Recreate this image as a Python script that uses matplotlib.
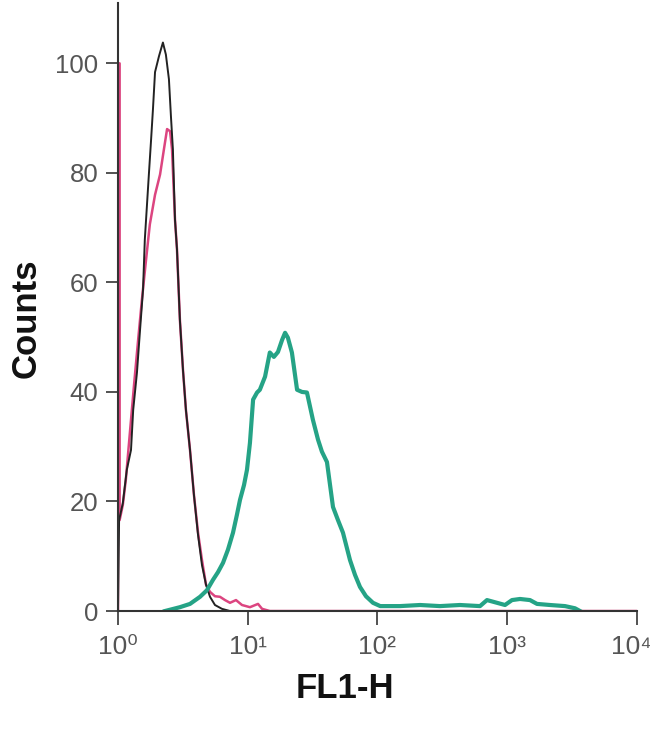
import numpy as np
import matplotlib
matplotlib.use("Agg")
import matplotlib.pyplot as plt
from matplotlib.transforms import ScaledTranslation

plt.rcParams['font.family'] = ['Liberation Sans', 'DejaVu Sans']

# control (black)
black_fl1 = [1.0, 1.02, 1.09, 1.17, 1.26, 1.31, 1.40, 1.48, 1.56, 1.61, 1.73, 1.80, 1.86,
             1.93, 2.07, 2.22, 2.34, 2.47, 2.56, 2.65, 2.75, 2.85, 3.00, 3.17, 3.34, 3.59,
             3.85, 4.14, 4.44, 4.77, 5.12, 5.59, 6.33, 7.30, 10000]
black_counts = [0, 16.6, 19.7, 25.8, 29.4, 36.7, 43.5, 51.4, 58.7, 67.8, 79.7, 86.1, 91.6,
                98.4, 101.3, 103.8, 101.6, 97.1, 90.3, 84.3, 71.5, 66.0, 53.2, 44.0, 36.7, 29.4,
                21.2, 13.9, 8.4, 4.8, 2.6, 1.1, 0.4, 0, 0]

# isotype (magenta)
magenta_fl1 = [1.0, 1.0, 1.03, 1.03, 1.09, 1.15, 1.24, 1.33, 1.43, 1.53, 1.64, 1.76, 1.93,
               2.11, 2.26, 2.39, 2.52, 2.61, 2.75, 2.85, 3.00, 3.17, 3.34, 3.59, 3.85, 4.14,
               4.44, 4.77, 5.12, 5.59, 6.11, 6.68, 7.30, 8.12, 9.03, 10.4, 12.0, 12.9, 14.8,
               10000]
magenta_counts = [0, 100, 100, 16.6, 19.4, 24.0, 33.0, 41.3, 49.5, 56.9, 63.8, 70.6, 76.0,
                  79.7, 84.3, 88.0, 87.6, 84.3, 71.5, 66.0, 53.2, 44.0, 36.7, 29.4, 21.2, 14.3,
                  9.3, 4.8, 3.5, 2.7, 2.6, 2.0, 1.5, 2.0, 1.1, 0.7, 1.3, 0.4, 0, 0]

# stained (green)
green_fl1 = [2.30, 3.00, 3.59, 4.29, 4.85, 5.40, 5.90, 6.45, 7.04, 7.70, 8.26, 8.72, 9.36,
             9.87, 10.4, 11.0, 11.8, 12.4, 13.6, 14.8, 15.9, 17.1, 18.4, 19.4, 20.4, 21.9,
             24.0, 26.2, 28.6, 31.8, 34.8, 37.3, 40.8, 45.4, 49.6, 54.2, 61.4, 67.1, 73.3,
             81.5, 92.3, 105, 149, 213, 303, 432, 617, 698, 805, 961, 1088, 1254, 1497,
             1696, 2135, 2787, 3329, 3637]
green_counts = [0, 0.7, 1.3, 2.6, 3.8, 5.7, 7.1, 8.8, 11.2, 14.3, 17.6, 20.3, 23.0,
                25.8, 30.7, 38.6, 39.9, 40.4, 42.8, 47.2, 46.4, 47.3, 49.5, 50.8, 49.9, 47.2,
                40.4, 40.0, 39.9, 34.9, 31.3, 29.1, 27.2, 19.0, 16.6, 14.3, 9.3, 6.6, 4.4,
                2.7, 1.5, 0.9, 0.9, 1.1, 0.9, 1.1, 0.9, 2.0, 1.6, 1.1, 2.0, 2.2, 2.0,
                1.3, 1.1, 0.9, 0.5, 0]

y_ticks = [0, 20, 40, 60, 80, 100]
x_ticks = [1, 10, 100, 1000, 10000]
x_ticklabels = ['10\u2070', '10\u00b9', '10\u00b2', '10\u00b3', '10\u2074']

fig = plt.figure(figsize=(6.5, 7.36), dpi=100)
ax = fig.add_axes([0.1815, 0.1698, 0.7985, 0.826])

ax.plot(magenta_fl1, magenta_counts, color='#dc4580', lw=1.8)
ax.plot(black_fl1, black_counts, color='#222222', lw=1.4)
ax.plot(green_fl1, green_counts, color='#25a386', lw=3.0)

ax.set_xscale('log')
ax.set_xlim(1, 10000)
ax.set_ylim(0, 111)
ax.set_xticks(x_ticks)
ax.set_xticklabels(x_ticklabels)
ax.minorticks_off()
ax.set_yticks(y_ticks)

for s in ['top', 'right']:
    ax.spines[s].set_visible(False)
for s in ['left', 'bottom']:
    ax.spines[s].set_color('#333333')
    ax.spines[s].set_linewidth(1.5)

ax.tick_params(axis='y', length=9, width=1.3, color='#444444', pad=5,
               labelsize=18.5, labelcolor='#555555')
ax.tick_params(axis='x', length=10, width=1.3, color='#444444', pad=7,
               labelsize=19, labelcolor='#555555')

# nudge the last x label so it stays inside the figure
last = ax.get_xticklabels()[-1]
last.set_transform(last.get_transform() + ScaledTranslation(-6 / 100, 0, fig.dpi_scale_trans))

ax.set_xlabel('FL1-H', fontsize=25, fontweight='bold', color='#111111')
ax.xaxis.set_label_coords(0.437, -0.1)
ax.set_ylabel('Counts', fontsize=25, fontweight='bold', color='#111111')
ax.yaxis.set_label_coords(-0.146, 0.482)

fig.savefig('out.png', dpi=100)
